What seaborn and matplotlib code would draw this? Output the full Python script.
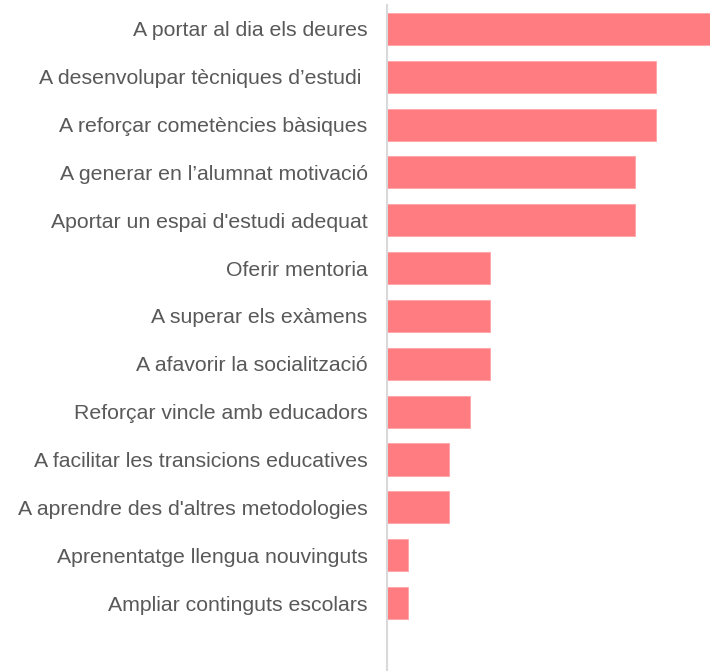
import matplotlib
matplotlib.use("Agg")
import matplotlib.pyplot as plt
import seaborn as sns
import pandas as pd

categories = [
    "A portar al dia els deures",
    "A desenvolupar tècniques d’estudi ",
    "A reforçar cometències bàsiques",
    "A generar en l’alumnat motivació",
    "Aportar un espai d'estudi adequat",
    "Oferir mentoria",
    "A superar els exàmens",
    "A afavorir la socialització",
    "Reforçar vincle amb educadors",
    "A facilitar les transicions educatives",
    "A aprendre des d'altres metodologies",
    "Aprenentatge llengua nouvinguts",
    "Ampliar continguts escolars",
]
values = [16, 13, 13, 12, 12, 5, 5, 5, 4, 3, 3, 1, 1]

df = pd.DataFrame({"categoria": categories, "valor": values})

sns.set_style("white")
plt.rcParams["font.family"] = ["Liberation Sans", "DejaVu Sans"]

W, H = 710, 671
fig = plt.figure(figsize=(W / 100, H / 100), dpi=100)
ax = fig.add_axes([387 / W, 0, 1 - 387 / W, 1 - 5 / H])

sns.barplot(data=df, x="valor", y="categoria", color="#FF7C80", saturation=1,
            width=0.67, edgecolor="#FFA3A6", linewidth=0.6, ax=ax)

ax.set_xlim(0, 15.63)
ax.set_ylim(13.42, -0.5)
ax.set_xlabel("")
ax.set_ylabel("")
ax.set_xticks([])
for s in ["top", "right", "bottom"]:
    ax.spines[s].set_visible(False)
ax.spines["left"].set_color("#D9D9D9")
ax.spines["left"].set_linewidth(1.5)
ax.tick_params(axis="y", length=0, pad=14, labelsize=15.3, labelcolor="#595959")

fig.savefig("out.png", dpi=100)
